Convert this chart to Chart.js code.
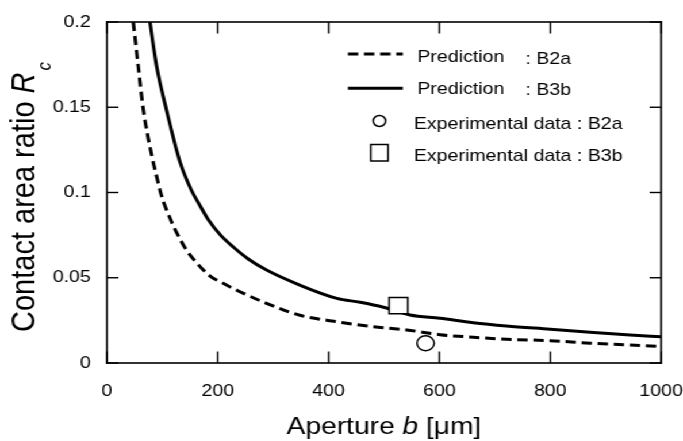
<!DOCTYPE html>
<html lang="en">
<head>
<meta charset="UTF-8">
<title>Contact area ratio vs aperture</title>
<script src="https://cdn.jsdelivr.net/npm/chart.js@4"></script>
<style>
  html, body { margin: 0; padding: 0; background: #fff; overflow: hidden; }
  /* the source figure is stretched sideways, so draw it narrow and widen it */
  #wrap { position: absolute; left: 0; top: 0; width: 594px; height: 441px;
          transform: scaleX(1.1498); transform-origin: 0 0; }
  #wrap canvas { position: absolute; left: 0; top: 0; }
  #frame { pointer-events: none; }
</style>
</head>
<body>
<div id="wrap">
  <canvas id="chart" width="594" height="441"></canvas>
  <canvas id="frame" width="594" height="441"></canvas>
</div>
<script>
// Prediction B2a (dashed)
const b2aAperture = [47.5, 56.5, 65.5, 80.7, 90, 98.6, 113.7, 125.8, 143.9, 160, 174, 188, 204, 240, 288, 348, 415, 481, 541, 601, 661, 721, 800, 872, 944, 1000];
const b2aRatio    = [0.2, 0.174, 0.149, 0.122, 0.109, 0.098, 0.085, 0.0765, 0.066, 0.0595, 0.0545, 0.0505, 0.0477, 0.0418, 0.035, 0.028, 0.0242, 0.0213, 0.0194, 0.0166, 0.0151, 0.0139, 0.0131, 0.0116, 0.0106, 0.0096];

// Prediction B3b (solid)
const b3bAperture = [77.6, 89.7, 107.8, 131.8, 152.9, 165, 183, 205, 228, 255, 288, 348, 415, 457, 499, 547, 601, 661, 721, 800, 872, 944, 1000];
const b3bRatio    = [0.2, 0.174, 0.148, 0.118, 0.101, 0.094, 0.084, 0.075, 0.068, 0.061, 0.0545, 0.0457, 0.0379, 0.0356, 0.0327, 0.0282, 0.0262, 0.0236, 0.0217, 0.0198, 0.018, 0.0164, 0.0154];

// Experimental data
const expB2aAperture = [575];
const expB2aRatio    = [0.0116];
const expB3bAperture = [526];
const expB3bRatio    = [0.0336];

const xTicks = [0, 200, 400, 600, 800, 1000];
const xTickLabels = ['0', '200', '400', '600', '800', '1000'];
const yTicks = [0, 0.05, 0.1, 0.15, 0.2];
const yTickLabels = ['0', '0.05', '0.1', '0.15', '0.2'];

const FONT = '"Liberation Sans", Arial, sans-serif';

const pts = (xs, ys) => xs.map((v, i) => ({ x: v, y: ys[i] }));

// axis titles with italic symbols and subscript, legend inside the plot
const decor = {
  id: 'decor',
  afterDraw(chart) {
    const ctx = chart.ctx;
    const area = chart.chartArea;
    ctx.save();
    ctx.strokeStyle = '#000';
    ctx.fillStyle = '#000';

    ctx.lineWidth = 3;
    ctx.setLineDash([9, 5]);
    ctx.beginPath(); ctx.moveTo(302.6, 54); ctx.lineTo(350.4, 54); ctx.stroke();
    ctx.setLineDash([]);
    ctx.beginPath(); ctx.moveTo(302.6, 88.3); ctx.lineTo(350.4, 88.3); ctx.stroke();
    ctx.lineWidth = 1.5;
    ctx.beginPath(); ctx.arc(330, 121, 5.5, 0, Math.PI * 2); ctx.stroke();
    ctx.strokeRect(322.5, 144.5, 15, 16.5);

    ctx.font = '17px ' + FONT;
    ctx.textBaseline = 'alphabetic';
    ctx.textAlign = 'left';
    ctx.fillText('Prediction', 363, 62);
    ctx.fillText(': B2a', 457, 64);
    ctx.fillText('Prediction', 363, 93.5);
    ctx.fillText(': B3b', 457, 95);
    ctx.fillText('Experimental data : B2a', 360, 129.3);
    ctx.fillText('Experimental data : B3b', 360, 160.7);

    // x title
    const parts = [['Aperture ', ''], ['b', 'italic '], [' [\u03bcm]', '']];
    let total = 0;
    parts.forEach(p => { ctx.font = p[1] + '24.5px ' + FONT; total += ctx.measureText(p[0]).width; });
    let cx = (area.left + area.right) / 2 - total / 2;
    parts.forEach(p => {
      ctx.font = p[1] + '24.5px ' + FONT;
      ctx.fillText(p[0], cx, 434);
      cx += ctx.measureText(p[0]).width;
    });

    // y title, rotated
    ctx.translate(30.2, 332);
    ctx.rotate(-Math.PI / 2);
    ctx.font = '29px ' + FONT;
    ctx.fillText('Contact area ratio ', 0, 0);
    let tx = ctx.measureText('Contact area ratio ').width;
    ctx.font = 'italic 29px ' + FONT;
    ctx.fillText('R', tx, 0);
    tx += ctx.measureText('R').width + 2;
    ctx.font = 'italic 17px ' + FONT;
    ctx.fillText('c', tx, 13.5);
    ctx.restore();
  }
};

const chart = new Chart(document.getElementById('chart'), {
  type: 'line',
  data: {
    datasets: [
      {
        label: 'Experimental data : B2a',
        data: pts(expB2aAperture, expB2aRatio),
        showLine: false,
        pointStyle: 'circle',
        pointRadius: 7.5,
        pointBorderWidth: 1.5,
        pointBorderColor: '#000',
        pointBackgroundColor: '#fff',
        order: 0
      },
      {
        label: 'Experimental data : B3b',
        data: pts(expB3bAperture, expB3bRatio),
        showLine: false,
        pointStyle: 'rect',
        pointRadius: 11.5,
        pointBorderWidth: 1.5,
        pointBorderColor: '#000',
        pointBackgroundColor: '#fff',
        order: 0
      },
      {
        label: 'Prediction : B2a',
        data: pts(b2aAperture, b2aRatio),
        borderColor: '#000',
        borderWidth: 3,
        borderDash: [9, 5],
        pointRadius: 0,
        cubicInterpolationMode: 'monotone',
        order: 1
      },
      {
        label: 'Prediction : B3b',
        data: pts(b3bAperture, b3bRatio),
        borderColor: '#000',
        borderWidth: 3,
        pointRadius: 0,
        cubicInterpolationMode: 'monotone',
        order: 1
      }
    ]
  },
  options: {
    responsive: false,
    animation: false,
    layout: { padding: { top: 22, right: 19, left: 0, bottom: 0 } },
    plugins: { legend: { display: false }, tooltip: { enabled: false } },
    scales: {
      x: {
        type: 'linear',
        min: 0, max: 1000,
        grid: { display: false, drawTicks: false },
        border: { display: false },
        afterBuildTicks: s => { s.ticks = xTicks.map(v => ({ value: v })); },
        ticks: { color: '#000', font: { family: FONT, size: 17 }, padding: 18, maxRotation: 0,
                 callback: (v, i) => xTickLabels[i] },
        afterFit: s => { s.height = 78; s.paddingLeft = 0; s.paddingRight = 0; }
      },
      y: {
        type: 'linear',
        min: 0, max: 0.2,
        grid: { display: false, drawTicks: false },
        border: { display: false },
        afterBuildTicks: s => { s.ticks = yTicks.map(v => ({ value: v })); },
        ticks: { color: '#000', font: { family: FONT, size: 17 }, padding: 14,
                 callback: (v, i) => yTickLabels[i] },
        afterFit: s => { s.width = 93; s.paddingTop = 0; s.paddingBottom = 0; }
      }
    }
  },
  plugins: [decor]
});

// box and inward ticks on a layer above the chart, placed from the chart's own scales
function drawFrame() {
  const cv = document.getElementById('frame');
  const f = cv.getContext('2d');
  const a = chart.chartArea;
  const sx = chart.scales.x, sy = chart.scales.y;
  f.clearRect(0, 0, cv.width, cv.height);
  f.fillStyle = '#000';
  f.fillRect(a.left - 0.8, a.top - 0.8, a.right - a.left + 1.6, 1.6);
  f.fillRect(a.left - 0.8, a.bottom - 0.8, a.right - a.left + 1.6, 1.6);
  f.fillRect(a.left - 0.8, a.top - 0.8, 1.6, a.bottom - a.top + 1.6);
  f.fillRect(a.right - 0.8, a.top - 0.8, 1.6, a.bottom - a.top + 1.6);
  xTicks.forEach(v => {
    const px = sx.getPixelForValue(v);
    f.fillRect(px - 0.7, a.bottom - 11.5, 1.4, 11.5);
    f.fillRect(px - 0.7, a.top, 1.4, 11.5);
  });
  yTicks.forEach(v => {
    const py = sy.getPixelForValue(v);
    f.fillRect(a.left, py - 0.7, 10, 1.4);
    f.fillRect(a.right - 10, py - 0.7, 10, 1.4);
  });
}
drawFrame();
</script>
</body>
</html>
